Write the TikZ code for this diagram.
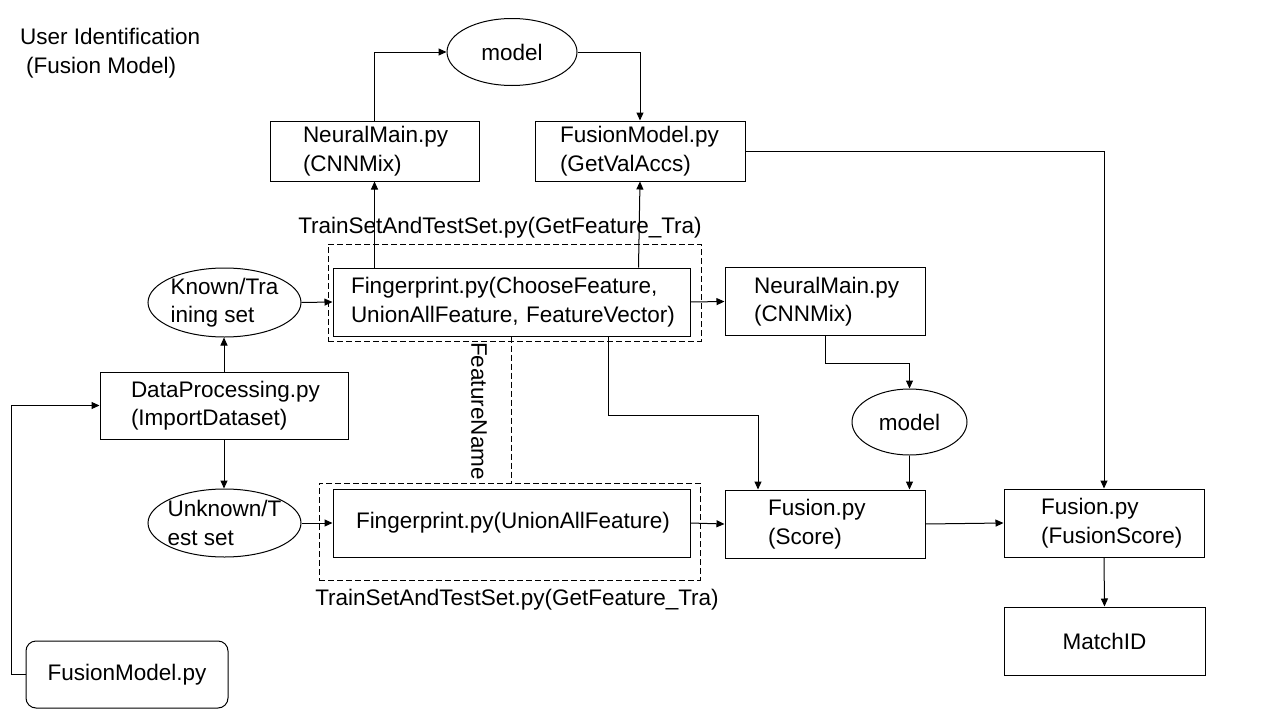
\documentclass[tikz,border=0pt]{standalone}
\usepackage{fontspec}
\setmainfont{Liberation Sans}
\usetikzlibrary{arrows.meta,shapes.geometric}
\begin{document}
\begin{tikzpicture}[x=1pt,y=-1pt,
  every node/.style={font=\fontsize{22.5}{28.5}\selectfont, inner sep=0pt},
  ln/.style={line width=1pt, draw=black},
  arr/.style={ln, -{Triangle[length=8pt,width=7pt]}},
  pbox/.style={draw, line width=1pt, rectangle, align=left, inner ysep=0pt},
  cbox/.style={draw, line width=1pt, rectangle, align=center},
  oval/.style={draw, line width=1pt, ellipse, inner sep=0pt},
  dbox/.style={draw, line width=1pt, dash pattern=on 6pt off 3pt, rectangle},
  txt/.style={align=left}
]
\useasboundingbox (0,0) rectangle (1280,720);
\fill[white] (0,0) rectangle (1280,720);

% title
\node[txt, anchor=west] (title) at (20,53) {User Identification\\\hspace{6pt}(Fusion Model)};

% dashed groups
\node[dbox, minimum width=373pt, minimum height=97pt] (dash1) at (514.5,292.5) {};
\node[dbox, minimum width=381pt, minimum height=97pt] (dash2) at (509.5,531.5) {};
\node (lab1) at (500,228) {TrainSetAndTestSet.py(GetFeature\_Tra)};
\node (lab2) at (517,600) {TrainSetAndTestSet.py(GetFeature\_Tra)};

% boxes
\node[pbox, text width=143pt, inner xsep=33pt, minimum height=60pt] (nm1) at (374.5,151) {\mbox{NeuralMain.py}\\\mbox{(CNNMix)}};
\node[pbox, text width=160pt, inner xsep=25pt, minimum height=60pt] (fm1) at (640,151) {\mbox{FusionModel.py}\\\mbox{(GetValAccs)}};
\node[pbox, text width=321pt, inner xsep=18pt, minimum height=68pt] (fp1) at (511.5,302) {\mbox{Fingerprint.py(ChooseFeature,}\\\mbox{UnionAllFeature, FeatureVector)}};
\node[pbox, text width=186pt, inner xsep=31pt, minimum height=67pt] (dp) at (224,405.5) {\mbox{DataProcessing.py}\\\mbox{(ImportDataset)}};
\node[pbox, text width=311pt, inner xsep=23pt, minimum height=68pt] (fp2) at (511.5,523) {\mbox{Fingerprint.py(UnionAllFeature)}};
\node[pbox, text width=142pt, inner xsep=29pt, minimum height=68pt] (nm2) at (825,301.5) {\mbox{NeuralMain.py}\\\mbox{(CNNMix)}};
\node[pbox, text width=114pt, inner xsep=43pt, minimum height=68pt] (fs) at (825,524) {\mbox{Fusion.py}\\\mbox{(Score)}};
\node[pbox, text width=126pt, inner xsep=37pt, minimum height=68pt] (fus) at (1104,523) {\mbox{Fusion.py}\\\mbox{(FusionScore)}};
\node[cbox, minimum width=201pt, minimum height=68pt] (mid) at (1104.5,641) {MatchID};
\node[cbox, rounded corners=10pt, minimum width=202pt, minimum height=67pt] (fmod) at (127,674.5) {FusionModel.py};

% ellipses
\node[oval, minimum width=130pt, minimum height=67pt] (model1) at (512,52) {model};
\node[oval, minimum width=115pt, minimum height=66pt] (model2) at (909.5,422) {model};
\node[oval, minimum width=153pt, minimum height=69pt] (known) at (224.5,302.5) {};
\node[txt] (knownt) at (known) {Known/Tra\\ining set};
\node[oval, minimum width=153pt, minimum height=68pt] (unknown) at (224.5,523) {};
\node[txt] (unknownt) at (unknown) {Unknown/T\\est set};

% FeatureName
\node[rotate=-90] (fname) at (479,411) {FeatureName};
\draw[ln, dash pattern=on 6pt off 3pt] (fp1.south) -- (fp1.south |- dash2.north);

% connectors
\draw[arr] (nm1.north) |- (model1.west);
\draw[arr] (model1.east) -| (fm1.north);
\draw[arr] (nm1.south |- fp1.north) -- (nm1.south);
\draw[arr] ([xshift=-1.5pt]fm1.south |- fp1.north) -- (fm1.south);
\draw[arr] (known.east) -- (fp1.west);
\draw[arr] (dp.north) -- (dp.north |- known.south);
\draw[arr] (dp.south) -- (dp.south |- unknown.north);
\draw[arr] (unknown.east) -- (fp2.west);
\draw[arr] (fp1.east) -- (nm2.west);
\draw[arr] (fp2.east) -- (fs.west);
\draw[arr] (fs.east) -- (fus.west);
\draw[arr] ([xshift=96.5pt]fp1.south) -- ++(0,79) -| ([xshift=-67pt]fs.north);
\draw[arr] (nm2.south) -- ++(0,27) -| (model2.north);
\draw[arr] (model2.south) -- (model2.south |- fs.north);
\draw[arr] (fm1.east) -| (fus.north);
\draw[arr] (fus.south) -- (mid.north);
\draw[arr] (fmod.west) -- ++(-14,0) |- (dp.west);
\end{tikzpicture}
\end{document}
